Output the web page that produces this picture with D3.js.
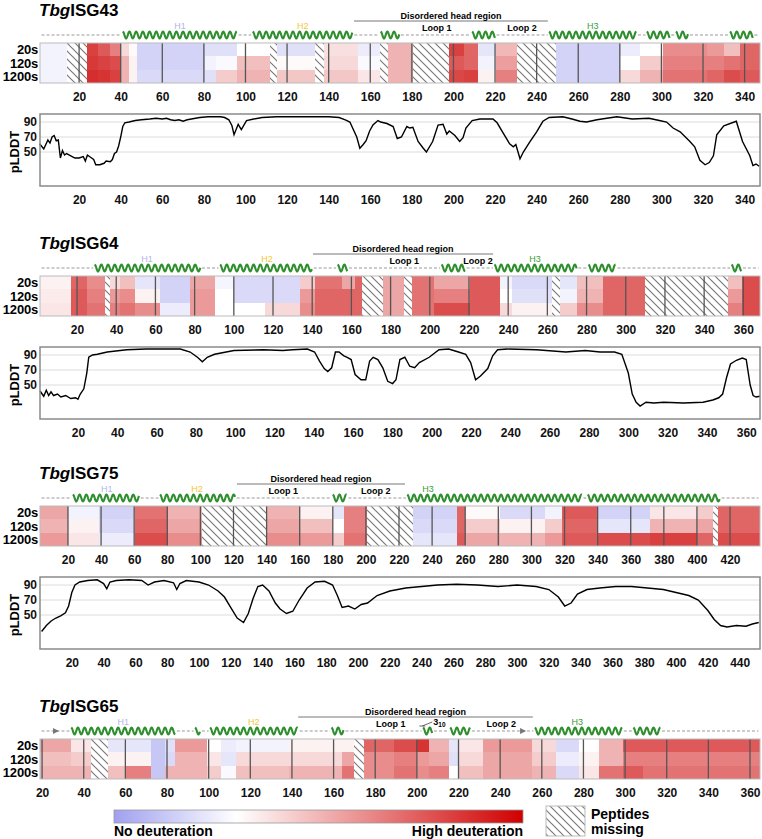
<!DOCTYPE html>
<html><head><meta charset="utf-8">
<script src="https://cdn.jsdelivr.net/npm/d3@7"></script>
<style>
body{margin:0;background:#fff}
text{font-family:"Liberation Sans",Arial,sans-serif}
</style>
</head><body>
<svg id="chart" width="762" height="839"></svg>
<script>
// time points (heatmap rows)
var rows = ['20s','120s','1200s'];

// ---- TbgISG43 ----
// blocks: [start residue, end residue, 20s, 120s, 1200s] (relative deuteration, -1 none .. 1 high)
var isg43Blocks = [
 [1.2,14,-0.1,-0.1,-0.1],[24,29,0.75,0.78,0.82],[29,35,0.65,0.74,0.8],[35,40,0.5,0.7,0.75],
 [40,44,0.15,0.3,0.3],[44,48,0.02,0.05,0.05],[48,80.5,-0.35,-0.35,-0.3],[80.5,86,-0.25,-0.1,-0.25],
 [86,96,-0.25,-0.05,0.2],[96,112,0,0.25,0.3],[115,133.4,-0.25,0.02,0.22],[137.7,154,0.12,0.15,0.22],
 [154,164.7,-0.15,-0.05,0.1],[168.5,180.5,0.3,0.3,0.3],[197.8,205,0.75,0.65,0.72],[205,211.8,0.6,0.6,0.75],
 [211.8,220.4,-0.2,-0.1,0.05],[220.4,230.5,0.28,0.38,0.5],[249.3,280,-0.35,-0.35,-0.35],[280,289.7,-0.15,0,0.15],
 [289.7,300.7,0,0.2,0.3],[300.7,321.9,0.45,0.5,0.55],[321.9,330,0.4,0.5,0.6],[330,337.7,0.25,0.55,0.7],
 [337.7,347.4,0.6,0.6,0.65]];
var isg43Missing = [[14,24],[112,115],[133.4,137.7],[164.7,168.5],[180.5,197.8],[230.5,249.3]];
var isg43Helices = [[41,96],[103.5,151.6],[165,174],[209,220],[246,288],[293,304],[307,313],[333,344]];
var isg43HelixLabels = [['H1',68.5],['H2',127.6],['H3',267]];
var isg43Loops = [['Loop 1',192],['Loop 2',233]];
var isg43Disorder = [152.2,245.4];
var isg43Ticks = [20,40,60,80,100,120,140,160,180,200,220,240,260,280,300,320,340];
var isg43Plddt = [[1,61],[3,54],[5,66],[6,62],[7,70],[8,72],[9,65],[10,66],[11,42],[12,52],[13,46],[14,48],[16,45],[18,42],
 [20,42],[22,44],[23,38],[24,46],[26,42],[27,40],[28,33],[30,33],[32,35],[33,38],[35,37],[36,40],[37,48],[38,50],[39,58],
 [40,70],[41,84],[42,89],[44,90],[47,92],[50,93],[54,94],[57,95],[60,94],[62,95],[64,93],[66,92],[68,93],[70,91],[72,93],
 [74,94],[76,95],[78,96],[82,97],[88,97],[90,96],[92,93],[93.5,85],[94.5,73],[96.5,87],[98,80],[100.5,92],[104,94],[108,96],
 [115,97],[125,97],[140,97],[145,96],[148,93],[150.2,90],[153.5,70],[155,55],[156.6,60],[158,65],[159.7,78],[161.3,86],
 [163.7,92],[165,90],[168,88],[171,84],[173,68],[175,70],[177.6,84],[179,82],[180.5,83],[183,64],[185.5,55],[187,50],
 [190,64],[192.6,86],[195,87],[196.8,74],[198,78],[200.7,72],[203,64],[204.6,69],[206,82],[209,92],[212.7,94],[219,94],
 [221,89],[224,75],[227,61],[228.8,57],[230,60],[232,41],[233.6,50],[236.8,64],[240,77],[243,91],[246,96],[252.6,97],
 [257,94],[260.8,91],[264,90],[269,93],[273.7,95],[278.6,97],[286,94],[294,95],[299,92],[302.5,90],[305.6,82],[309,77],
 [313.7,64],[316,57],[318.5,39],[321,33],[323,36],[325,45],[326.6,73],[330,85],[336,91],[339,64],[342.5,45],[344,32],
 [345.5,34],[347,31]];

// ---- TbgISG64 ----
var isg64Blocks = [
 [1.1,16.9,0.05,0.08,0.1],[16.9,25.1,0.6,0.65,0.65],[25.1,34.3,0.45,0.5,0.55],[36.8,41.9,0.15,0.4,0.5],
 [41.9,49.6,0.25,0.45,0.55],[49.6,62.3,-0.2,0.05,0.45],[62.3,77.7,-0.35,-0.35,-0.15],[77.7,90.4,0.35,0.4,0.4],
 [90.4,99.6,-0.08,0,0],[99.6,116,-0.3,-0.3,0],[116,133.8,-0.3,-0.3,0.15],[133.8,141.4,0.2,0.4,0.45],
 [141.4,155.2,0.55,0.6,0.6],[155.2,161.8,0.35,0.6,0.6],[161.8,165.4,0.6,0.6,0.6],[176.1,186.8,0.35,0.35,0.35],
 [191,202.1,0.55,0.55,0.55],[202.1,220.5,0.35,0.5,0.7],[220.5,235.8,0.65,0.65,0.65],[235.8,242,-0.1,0,0.15],
 [242,262.3,-0.3,-0.25,0.05],[266.4,275.1,-0.2,-0.1,0.2],[275.1,288.4,0.25,0.3,0.45],[288.4,309.8,0.6,0.6,0.6],
 [352.2,359.3,0.25,0.4,0.5],[359.3,368.5,0.7,0.7,0.7]];
var isg64Missing = [[34.3,36.8],[165.4,176.1],[186.8,191],[262.3,266.4],[309.8,352.2]];
var isg64Helices = [[29,83],[93,140],[153,158],[206,218],[233,275],[281,295],[354,359]];
var isg64HelixLabels = [['H1',55.7],['H2',117],['H3',253.7]];
var isg64Loops = [['Loop 1',187],['Loop 2',224.6]];
var isg64Disorder = [140.4,232.3];
var isg64Ticks = [20,40,60,80,100,120,140,160,180,200,220,240,260,280,300,320,340,360];
var isg64Plddt = [[0.7,42],[2.6,35],[3.9,43],[5.1,36],[6.3,41],[7.6,36],[9.6,38],[11.3,34],[13.8,36],[16.3,32],[18.8,33],
 [20,31],[21.2,38],[23,45],[24.5,66],[25.5,87],[27.4,90],[29.9,91],[34.9,94],[44.8,97],[54.7,98],[72.1,98],[77.1,94],
 [80.8,87],[83.3,81],[85.8,87],[89.5,91],[99.4,96],[114.3,97],[124.2,96],[129.2,97],[136.7,98],[140.4,94],[142.9,82],
 [145.3,72],[147.1,68],[149.1,73],[151,94],[152.8,94],[155.3,89],[157,87],[159,84],[161,64],[164,57],[166.4,57],[168.4,82],
 [170.2,87],[172.6,84],[175.1,73],[177.6,55],[180.1,52],[181.8,57],[183.8,84],[186.3,87],[188.8,75],[191.3,73],[193.7,80],
 [198.7,87],[203.7,97],[208.6,98],[213.6,94],[217.3,91],[219.8,80],[222.3,57],[224.8,62],[228.5,72],[231,89],[233.5,97],
 [238.4,98],[253.3,97],[268.2,94],[278.1,96],[285.6,94],[293,94],[296.7,91],[300,66],[302,38],[304,27],[306,22],[309,27],
 [313,26],[318,27],[328,26],[338,27],[343,30],[346,33],[348,38],[350,60],[352,78],[355,83],[358,86],[360,84],[362,50],
 [363.5,36],[365,34],[367,35]];

// ---- TbgISG75 ----
var isg75Blocks = [
 [3.1,20,0.35,0.3,0.4],[20,39,-0.1,0.05,0.1],[39,60.5,-0.35,-0.3,-0.15],[60.5,80.4,0.55,0.6,0.7],
 [80.4,101,0.3,0.35,0.45],[140,160,0.3,0.35,0.45],[160,180,0.05,0.25,0.4],[180,187,-0.2,0,0.2],
 [187,200.6,0.5,0.5,0.55],[228.5,255,-0.35,-0.3,-0.2],[255,260,0.6,0.6,0.65],[260,281,0.02,0.2,0.35],
 [281,308,-0.3,0.05,0.3],[308,318.5,-0.1,0.2,0.4],[318.5,340,0.65,0.6,0.65],[340,371.6,-0.35,-0.2,0.7],
 [371.6,400,0.1,0.3,0.75],[400,409.7,0.2,0.35,0.6],[412.7,438.1,0.6,0.6,0.7]];
var isg75Missing = [[101,140],[200.6,228.5],[409.7,412.7]];
var isg75Helices = [[23,63],[75.6,121],[180,188.5],[225,330.6],[334,414]];
var isg75HelixLabels = [['H1',43.5],['H2',98],['H3',237.5]];
var isg75Loops = [['Loop 1',150],['Loop 2',206]];
var isg75Disorder = [122.1,223.6];
var isg75Ticks = [20,40,60,80,100,120,140,160,180,200,220,240,260,280,300,320,340,360,380,400,420];
var isg75PlddtTicks = [20,40,60,80,100,120,140,160,180,200,220,240,260,280,300,320,340,360,380,400,420,440];
var isg75Plddt = [[1,28],[4,36],[7,42],[10,46],[13,49],[16,53],[18,62],[20,80],[22,90],[25,94],[30,96],[36,97],[40,92],
 [42,85],[44,94],[48,96],[56,97],[64,96],[68,90],[72,94],[78,96],[84,93],[86,84],[88,92],[92,96],[100,94],[106,90],[112,82],
 [116,74],[120,60],[124,46],[128,40],[131,52],[134,72],[137,88],[140,90],[144,82],[148,66],[151,58],[155,52],[159,55],
 [163,70],[168,86],[173,94],[179,95],[184,90],[187,76],[190,60],[194,62],[198,58],[202,64],[206,66],[212,76],[220,82],
 [230,86],[240,88],[250,90],[262,91],[275,90],[288,88],[300,90],[312,88],[320,84],[326,74],[330,62],[334,66],[338,78],
 [344,84],[352,86],[362,88],[372,88],[382,86],[392,84],[400,80],[408,76],[414,70],[420,56],[424,44],[428,36],[432,34],
 [438,36],[444,35],[448,38],[452,40]];

// ---- TbgISG65 ----
var isg65Blocks = [
 [19,33.9,0.35,0.25,0.3],[33.9,43.4,0.1,0.2,0.3],[51.5,59.6,-0.2,0.05,0.25],[59.6,72.5,-0.2,0.05,0.5],
 [72.5,79.2,-0.45,-0.45,-0.45],[79.2,84,-0.25,-0.3,0.3],[84,99.2,0.4,0.3,0.3],[99.2,105.9,0,0.1,0.2],
 [105.9,113,-0.15,-0.2,-0.05],[113,138.8,-0.1,0.15,0.25],[138.8,164,0.05,0.15,0.3],[164,169.8,0.05,0.35,0.55],
 [174.6,189,0.6,0.45,0.45],[189,199.4,0.7,0.5,0.55],[199.4,206,0.8,0.4,0.45],[206,215.6,0.3,0.35,0.5],
 [215.6,220,-0.2,-0.25,0],[220,231.9,0.1,0.15,0.25],[231.9,255.2,0.4,0.35,0.35],[255.2,266.7,0.15,0.2,0.3],
 [266.7,278,-0.3,-0.15,-0.3],[278,287.7,0,0.05,0.1],[287.7,299,0.3,0.3,0.55],[299,308.7,0.65,0.5,0.65],
 [308.7,364.8,0.65,0.5,0.55]];
var isg65Missing = [[43.4,51.5],[169.8,174.6]];
var isg65Helices = [[34,84],[93.5,96],[100.7,143],[159,165],[203,207.5],[216,225.7],[256.7,298.7],[304,317]];
var isg65HelixLabels = [['H1',59],['H2',121.7],['H3',277]];
var isg65Loops = [['Loop 1',187.5],['Loop 2',240.5]];
var isg65Disorder = [143,255.7];
var isg65Arrows = [26.7,251];
var isg65Ticks = [20,40,60,80,100,120,140,160,180,200,220,240,260,280,300,320,340,360];

var panels = [
 {name:'ISG43', top:0, hm:[1.2,347.4], pl:[1.2,347.4], blocks:isg43Blocks, missing:isg43Missing, helices:isg43Helices,
  hl:isg43HelixLabels, loops:isg43Loops, dis:isg43Disorder, ticks:isg43Ticks, plTicks:isg43Ticks, plddt:isg43Plddt},
 {name:'ISG64', top:233, hm:[1.1,368.5], pl:[0.7,367], blocks:isg64Blocks, missing:isg64Missing, helices:isg64Helices,
  hl:isg64HelixLabels, loops:isg64Loops, dis:isg64Disorder, ticks:isg64Ticks, plTicks:isg64Ticks, plddt:isg64Plddt},
 {name:'ISG75', top:463, hm:[3.1,438.1], pl:[0,452.8], blocks:isg75Blocks, missing:isg75Missing, helices:isg75Helices,
  hl:isg75HelixLabels, loops:isg75Loops, dis:isg75Disorder, ticks:isg75Ticks, plTicks:isg75PlddtTicks, plddt:isg75Plddt},
 {name:'ISG65', top:696, hm:[19,364.8], blocks:isg65Blocks, missing:isg65Missing, helices:isg65Helices,
  hl:isg65HelixLabels, loops:isg65Loops, dis:isg65Disorder, ticks:isg65Ticks, arrows:isg65Arrows, sub310:205}
];

var helixColors = {H1:'#b4b4ea', H2:'#f4c534', H3:'#3c9c3c'};
var svg = d3.select('#chart');
var defs = svg.append('defs');
defs.append('pattern').attr('id','hatch').attr('patternUnits','userSpaceOnUse')
  .attr('width',8).attr('height',8)
  .append('path').attr('d','M0,0L8,8M-4,4L4,12M4,-4L12,4')
  .attr('stroke','#7a7a7a').attr('stroke-width',1.2);

var color = d3.scaleLinear().domain([-1,0,1]).range(['#8282e8','#ffffff','#cc0000']);
var L = 40, R = 760;

function drawPanel(p){
  var g = svg.append('g').attr('transform','translate(0,'+p.top+')');
  var x = d3.scaleLinear().domain(p.hm).range([L,R]);
  var y = d3.scaleBand().domain(rows).range([43,83]);

  var t = g.append('text').attr('x',39).attr('y',16)
    .style('font-size','17px').style('font-weight','bold');
  t.append('tspan').style('font-style','italic').text('Tbg');
  t.append('tspan').text(p.name);

  // disordered head region
  g.append('line').attr('x1',x(p.dis[0])).attr('x2',x(p.dis[1])).attr('y1',21).attr('y2',21)
    .attr('stroke','#777').attr('stroke-width',1);
  g.append('text').attr('x',x((p.dis[0]+p.dis[1])/2)).attr('y',18.5).attr('text-anchor','middle')
    .style('font-size','9px').style('font-weight','bold').text('Disordered head region');
  g.selectAll('.loop').data(p.loops).enter().append('text')
    .attr('x',function(d){return x(d[1]);}).attr('y',31).attr('text-anchor','middle')
    .style('font-size','9px').style('font-weight','bold').text(function(d){return d[0];});
  g.selectAll('.hl').data(p.hl).enter().append('text')
    .attr('x',function(d){return x(d[1]);}).attr('y',29).attr('text-anchor','middle')
    .style('font-size','9px').attr('fill',function(d){return helixColors[d[0]];}).text(function(d){return d[0];});

  // dashed backbone between helices
  var cy = 35, prev = p.hm[0];
  var gaps = [];
  p.helices.forEach(function(h){ gaps.push([prev,h[0]]); prev = h[1]; });
  gaps.push([prev,p.hm[1]]);
  g.selectAll('.gap').data(gaps).enter().append('line')
    .attr('x1',function(d){return x(d[0])+1.5;}).attr('x2',function(d){return x(d[1])-1.5;})
    .attr('y1',cy).attr('y2',cy).attr('stroke','#9a9a9a').attr('stroke-width',1.1).attr('stroke-dasharray','3,2');
  var wave = d3.line().curve(d3.curveBasis);
  g.selectAll('.helix').data(p.helices).enter().append('path')
    .attr('d',function(h){
      var x0 = x(h[0]), x1 = x(h[1]), pts = [];
      for (var xx = x0; xx <= x1; xx += 0.6) pts.push([xx, cy - 3.6*Math.cos(2*Math.PI*(xx-x0)/6.7)]);
      return wave(pts);
    })
    .attr('fill','none').attr('stroke','#2f8f2f').attr('stroke-width',2.1);
  if (p.arrows){
    g.selectAll('.arr').data(p.arrows).enter().append('path')
      .attr('d',function(d){var a = x(d); return 'M'+(a-3)+','+(cy-3)+'L'+(a+3)+','+cy+'L'+(a-3)+','+(cy+3)+'Z';})
      .attr('fill','#777');
  }
  if (p.sub310){
    var sx = x(p.sub310);
    g.append('line').attr('x1',sx-5).attr('x2',sx+5).attr('y1',cy-5).attr('y2',cy-9)
      .attr('stroke','#444').attr('stroke-width',0.8);
    g.append('line').attr('x1',sx-8).attr('x2',sx-2).attr('y1',cy-5).attr('y2',cy-5)
      .attr('stroke','#444').attr('stroke-width',0.8);
    var s = g.append('text').attr('x',sx+6).attr('y',cy-6).style('font-size','9px').style('font-weight','bold');
    s.append('tspan').text('3');
    s.append('tspan').attr('dy',2).style('font-size','6.5px').text('10');
  }

  // heatmap
  var hm = g.append('g').attr('shape-rendering','crispEdges');
  p.blocks.forEach(function(b){
    rows.forEach(function(r,i){
      hm.append('rect').attr('x',x(b[0])).attr('width',x(b[1])-x(b[0]))
        .attr('y',y(r)).attr('height',y.bandwidth()).attr('fill',color(b[2+i]));
    });
  });
  hm.selectAll('.miss').data(p.missing).enter().append('rect')
    .attr('x',function(d){return x(d[0]);}).attr('width',function(d){return x(d[1])-x(d[0]);})
    .attr('y',43).attr('height',40).attr('fill','url(#hatch)');
  g.selectAll('.grid').data(p.ticks).enter().append('line')
    .attr('x1',function(d){return x(d);}).attr('x2',function(d){return x(d);})
    .attr('y1',43).attr('y2',83).attr('stroke','#555').attr('stroke-width',1.3);
  g.append('rect').attr('x',L).attr('y',43).attr('width',R-L).attr('height',40)
    .attr('fill','none').attr('stroke','#bbb').attr('stroke-width',1);
  g.selectAll('.rl').data(rows).enter().append('text')
    .attr('x',38).attr('y',function(r){return y(r)+y.bandwidth()/2+4.5;}).attr('text-anchor','end')
    .style('font-size','13px').style('font-weight','bold').style('letter-spacing','-0.2px')
    .text(function(r){return r;});
  var ax = g.append('g').attr('transform','translate(0,83)')
    .call(d3.axisBottom(x).tickValues(p.ticks).tickSize(0).tickPadding(9));
  ax.select('.domain').remove();
  ax.selectAll('text').style('font-size','12px').style('font-weight','bold')
    .style('font-family','"Liberation Sans",Arial,sans-serif').attr('fill','#111');

  if (!p.plddt) return;
  // pLDDT profile
  var xp = d3.scaleLinear().domain(p.pl).range([L,R]);
  var yp = d3.scaleLinear().domain([4.7,100.7]).range([186,114]);
  g.selectAll('.pg').data([50,70,90]).enter().append('line')
    .attr('x1',L).attr('x2',R).attr('y1',function(d){return yp(d);}).attr('y2',function(d){return yp(d);})
    .attr('stroke','#dcdcdc').attr('stroke-width',1);
  g.append('path').datum(p.plddt)
    .attr('d',d3.line().x(function(d){return xp(d[0]);}).y(function(d){return yp(d[1]);}))
    .attr('fill','none').attr('stroke','#000').attr('stroke-width',1.4);
  g.append('rect').attr('x',L).attr('y',114).attr('width',R-L).attr('height',72)
    .attr('fill','none').attr('stroke','#8a8a8a').attr('stroke-width',1.5);
  var ay = g.append('g').attr('transform','translate('+L+',0)')
    .call(d3.axisLeft(yp).tickValues([50,70,90]).tickSize(0).tickPadding(3));
  ay.select('.domain').remove();
  ay.selectAll('text').style('font-size','12px').style('font-weight','bold')
    .style('font-family','"Liberation Sans",Arial,sans-serif').attr('fill','#111');
  var axp = g.append('g').attr('transform','translate(0,186)')
    .call(d3.axisBottom(xp).tickValues(p.plTicks).tickSize(0).tickPadding(9));
  axp.select('.domain').remove();
  axp.selectAll('text').style('font-size','12px').style('font-weight','bold')
    .style('font-family','"Liberation Sans",Arial,sans-serif').attr('fill','#111');
  g.append('text').attr('transform','translate(19,152) rotate(-90)').attr('text-anchor','middle')
    .style('font-size','13px').style('font-weight','bold').text('pLDDT');
}

panels.forEach(drawPanel);

// legend
var grad = defs.append('linearGradient').attr('id','dgrad');
grad.append('stop').attr('offset','0%').attr('stop-color','#a0a0f0');
grad.append('stop').attr('offset','30%').attr('stop-color','#ffffff');
grad.append('stop').attr('offset','100%').attr('stop-color','#d00000');
svg.append('rect').attr('x',114).attr('y',810).attr('width',409).attr('height',13)
  .attr('fill','url(#dgrad)').attr('stroke','#999').attr('stroke-width',0.8);
svg.append('text').attr('x',114).attr('y',836).style('font-size','14px').style('font-weight','bold').text('No deuteration');
svg.append('text').attr('x',523).attr('y',836).attr('text-anchor','end').style('font-size','14px').style('font-weight','bold').text('High deuteration');
svg.append('rect').attr('x',546).attr('y',806).attr('width',39).attr('height',30)
  .attr('fill','url(#hatch)').attr('stroke','#bbb').attr('stroke-width',1);
svg.append('text').attr('x',591).attr('y',819).style('font-size','14px').style('font-weight','bold').text('Peptides');
svg.append('text').attr('x',591).attr('y',834).style('font-size','14px').style('font-weight','bold').text('missing');
</script>
</body></html>
